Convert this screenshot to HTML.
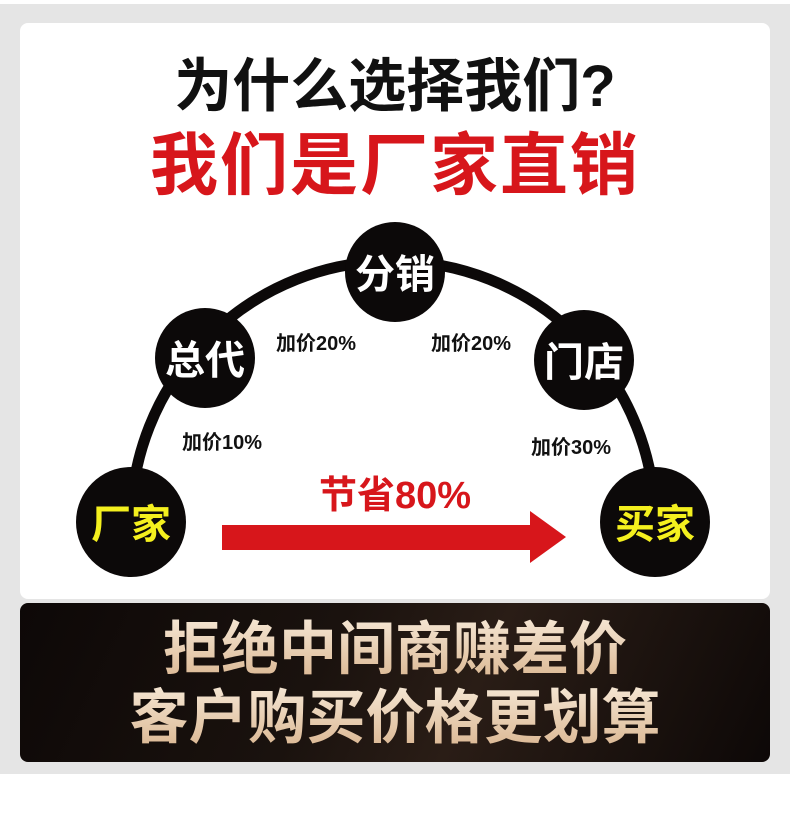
<!DOCTYPE html>
<html><head><meta charset="utf-8"><style>
body{margin:0;width:790px;height:830px;background:#fff;position:relative;overflow:hidden;font-family:"Liberation Sans","Noto Sans CJK SC",sans-serif}
.bg{position:absolute;left:0;top:4px;width:790px;height:770px;background:#e5e5e5}
.card{position:absolute;left:20px;top:23px;width:750px;height:576px;background:#fff;border-radius:8px}
.banner{position:absolute;left:20px;top:603px;width:750px;height:159px;border-radius:8px;background:linear-gradient(115deg,#0d0807 0%,#1a120e 40%,#2a1d16 60%,#0d0807 100%)}
.t{position:absolute;left:0;width:790px;text-align:center;font-weight:bold;white-space:nowrap}
.g{background:linear-gradient(180deg,#f6e8d6,#d9b48e);-webkit-background-clip:text;background-clip:text;color:transparent}
</style></head><body>
<div class="bg"></div>
<div class="card"></div>
<div class="t" style="top:52px;font-size:58px;color:#111;line-height:70px">为什么选择我们?</div>
<div class="t" style="top:126px;font-size:68px;color:#d7161b;line-height:80px;letter-spacing:2px">我们是厂家直销</div>
<svg style="position:absolute;left:0;top:0" width="790" height="830">
<path d="M131 523 A262 262 0 0 1 655 523" fill="none" stroke="#0c0909" stroke-width="11"/>
<g fill="#0c0909">
<circle cx="131" cy="522" r="55"/><circle cx="205" cy="358" r="50"/><circle cx="395" cy="272" r="50"/><circle cx="584" cy="360" r="50"/><circle cx="655" cy="522" r="55"/>
</g>
<g font-family="Liberation Sans,Noto Sans CJK SC,sans-serif" font-weight="bold" text-anchor="middle">
<text x="131" y="538" font-size="40" fill="#f4f01e">厂家</text>
<text x="655" y="538" font-size="40" fill="#f4f01e">买家</text>
<text x="205" y="374" font-size="40" fill="#fff">总代</text>
<text x="395" y="288" font-size="40" fill="#fff">分销</text>
<text x="584" y="376" font-size="40" fill="#fff">门店</text>
<g font-size="20" fill="#111">
<text x="316" y="350">加价20%</text>
<text x="471" y="350">加价20%</text>
<text x="222" y="449">加价10%</text>
<text x="571" y="454">加价30%</text>
</g>
<text x="395" y="508" font-size="38" fill="#d7161b">节省80%</text>
</g>
<path d="M222 525 H530 V511 L566 537 L530 563 V550 H222 Z" fill="#d7161b"/>
</svg>
<div class="banner"></div>
<div class="t g" style="top:615px;font-size:58px;line-height:70px">拒绝中间商赚差价</div>
<div class="t g" style="top:683px;font-size:59px;line-height:70px">客户购买价格更划算</div>
</body></html>
